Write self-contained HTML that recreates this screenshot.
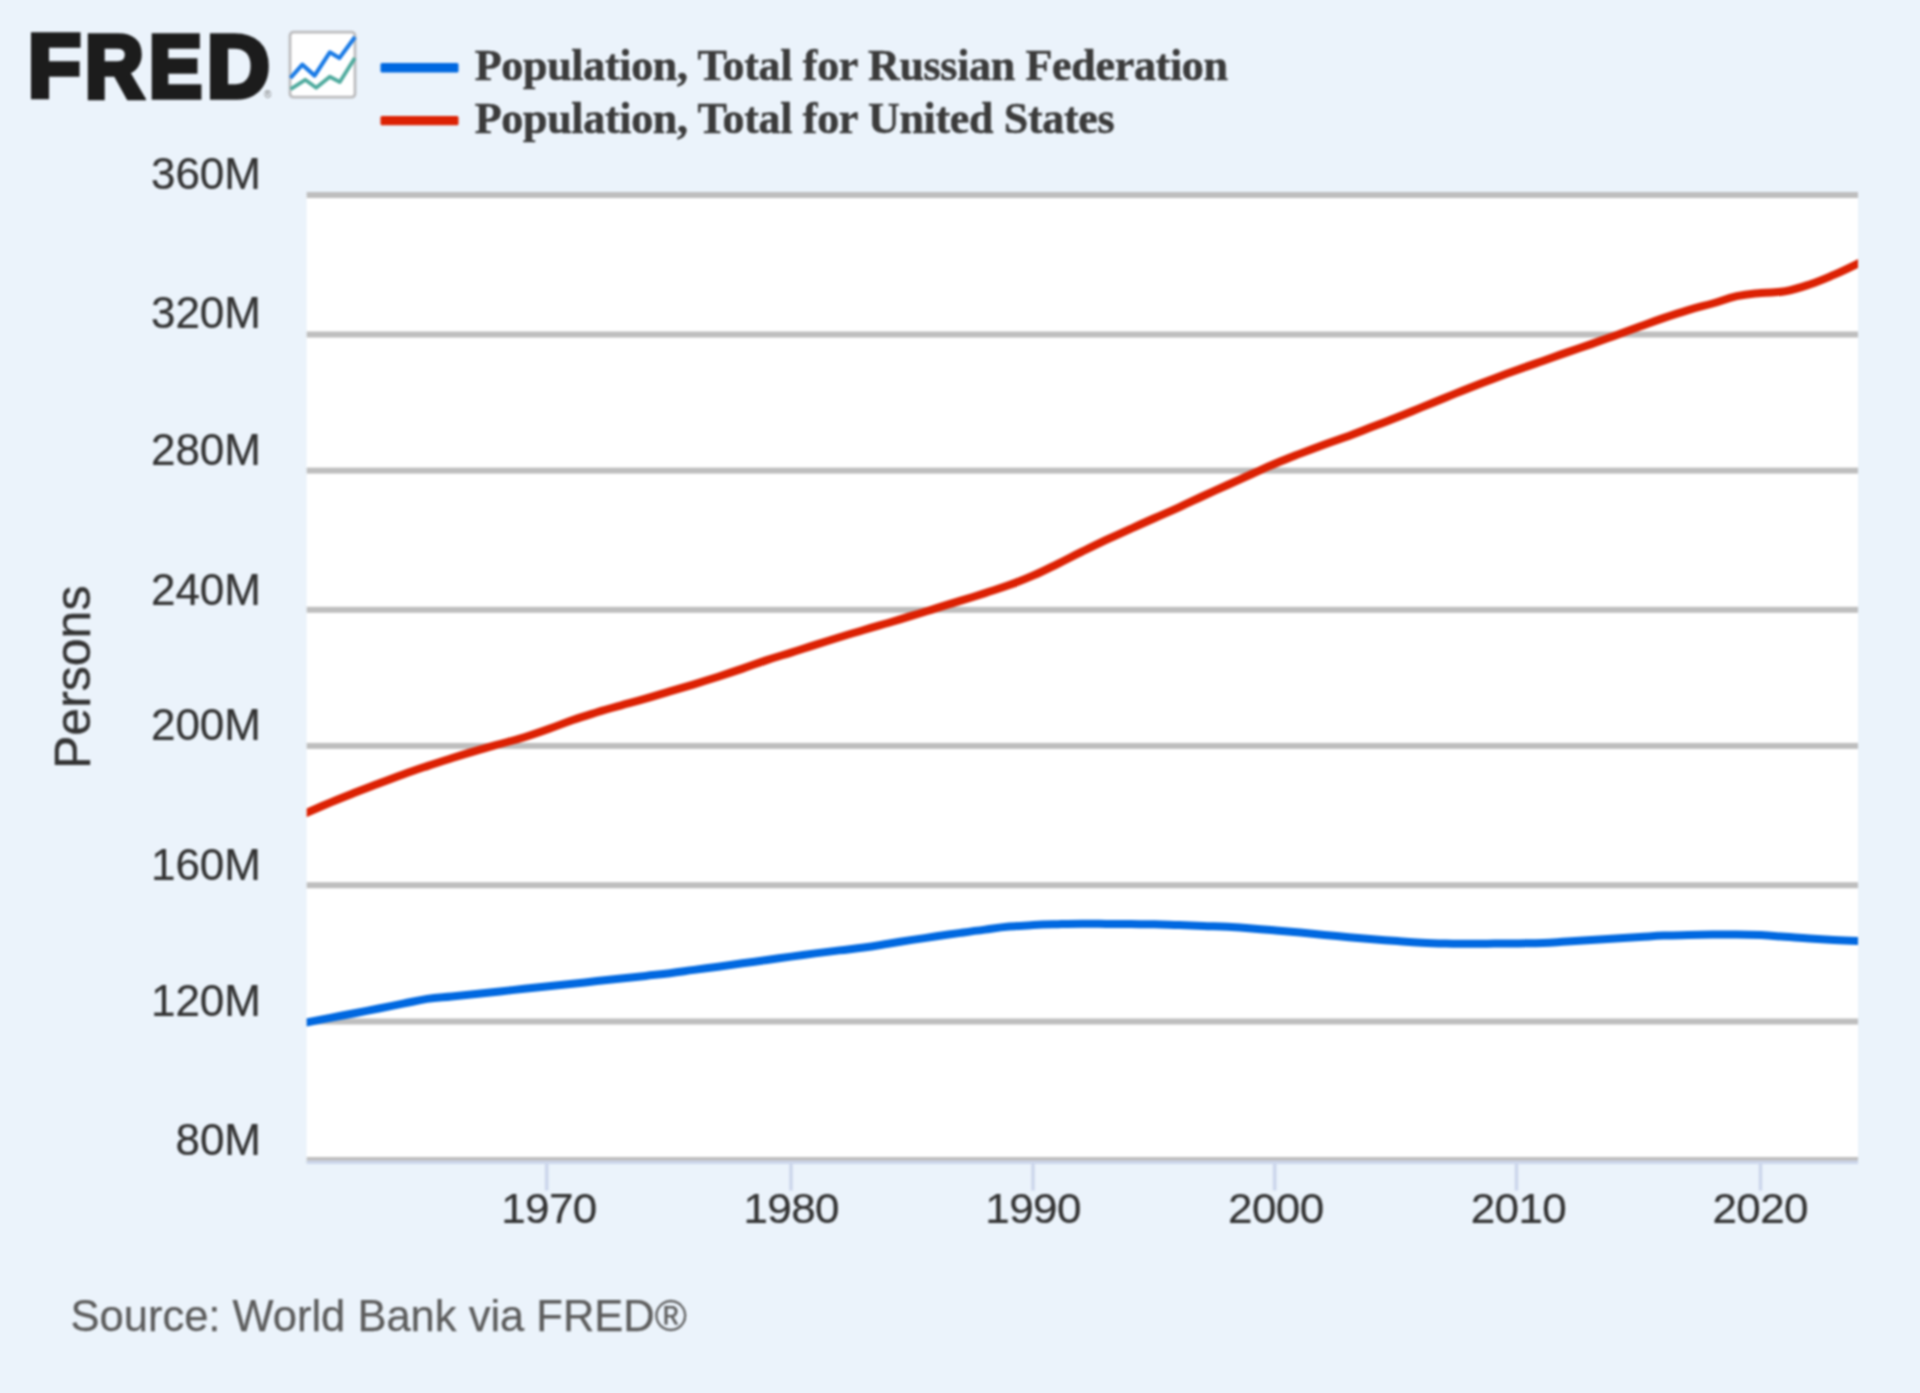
<!DOCTYPE html>
<html lang="en">
<head>
<meta charset="utf-8">
<title>FRED Graph - Population, Total</title>
<style>
html,body{margin:0;padding:0;}
body{width:1920px;height:1393px;background:#ebf3fb;overflow:hidden;position:relative;
 font-family:"Liberation Sans",Arial,sans-serif;}
#wrap{position:absolute;left:0;top:0;width:1920px;height:1393px;overflow:hidden;filter:blur(0.9px);}
.logo span{position:absolute;top:0;font-family:"Liberation Sans",Arial,sans-serif;font-weight:bold;
 font-size:85px;line-height:85px;color:#1c1c1c;-webkit-text-stroke:5.5px #1c1c1c;white-space:nowrap;transform-origin:0 0;transform:scale(1,1.04);}
.reg{position:absolute;left:264px;top:89.5px;font-size:10px;line-height:10px;color:#777;}
.legend{position:absolute;left:474.8px;font-family:"Liberation Serif","Times New Roman",serif;font-weight:bold;
 font-size:44px;line-height:44px;letter-spacing:-0.32px;color:#3b3b3b;-webkit-text-stroke:0.5px #3b3b3b;white-space:nowrap;}
.yl{position:absolute;left:101px;width:160px;text-align:right;font-size:44px;line-height:44px;color:#333;-webkit-text-stroke:0.25px #333;transform:scaleY(0.99);white-space:nowrap;}
.xl{position:absolute;width:200px;text-align:center;font-size:44px;line-height:44px;color:#333;-webkit-text-stroke:0.25px #333;letter-spacing:-0.6px;white-space:nowrap;top:1185.5px;transform:scaleY(0.975);}
.ytitle{position:absolute;left:0;top:0;font-size:50px;line-height:50px;color:#333;-webkit-text-stroke:0.4px #333;white-space:nowrap;
 transform-origin:0 0;}
.src{position:absolute;left:70.5px;top:1292px;font-size:43.5px;line-height:48px;color:#5c5c5c;-webkit-text-stroke:0.25px #5c5c5c;white-space:nowrap;}
svg{position:absolute;left:0;top:0;}
</style>
</head>
<body>
<div id="wrap">

<svg width="1920" height="1393" viewBox="0 0 1920 1393">
<rect x="306.7" y="195" width="1551.3" height="965" fill="#ffffff"/>
<rect x="306.7" y="192.0" width="1551.3" height="6" fill="#bebebe"/>
<rect x="306.7" y="331.5" width="1551.3" height="6" fill="#bebebe"/>
<rect x="306.7" y="467.6" width="1551.3" height="6" fill="#bebebe"/>
<rect x="306.7" y="606.8" width="1551.3" height="6" fill="#bebebe"/>
<rect x="306.7" y="742.9" width="1551.3" height="6" fill="#bebebe"/>
<rect x="306.7" y="882.2" width="1551.3" height="6" fill="#bebebe"/>
<rect x="306.7" y="1018.5" width="1551.3" height="6" fill="#bebebe"/>
<rect x="306.7" y="1157.0" width="1551.3" height="6" fill="#bebebe"/>
<rect x="306.7" y="1160.6" width="1551.3" height="3.4" fill="#ccd6eb"/>
<rect x="544.9" y="1162" width="3.6" height="28.5" fill="#ccd6eb"/>
<rect x="789.2" y="1162" width="3.6" height="28.5" fill="#ccd6eb"/>
<rect x="1031.2" y="1162" width="3.6" height="28.5" fill="#ccd6eb"/>
<rect x="1272.9" y="1162" width="3.6" height="28.5" fill="#ccd6eb"/>
<rect x="1514.7" y="1162" width="3.6" height="28.5" fill="#ccd6eb"/>
<rect x="1758.7" y="1162" width="3.6" height="28.5" fill="#ccd6eb"/>
<clipPath id="plotclip"><rect x="306.7" y="180" width="1551.3" height="990"/></clipPath>
<g fill="none" stroke-width="8" stroke-linejoin="round" stroke-linecap="round" clip-path="url(#plotclip)">
<path d="M306.0 1022.5 C306.0 1022.5 320.6 1019.7 330.2 1017.9 C339.9 1016.0 344.8 1015.1 354.5 1013.2 C364.2 1011.3 369.1 1010.4 378.8 1008.5 C388.4 1006.6 393.3 1005.6 403.0 1003.7 C412.7 1001.8 417.6 1000.4 427.2 998.9 C436.9 997.4 441.8 997.4 451.5 996.4 C461.2 995.4 466.1 994.9 475.8 993.9 C485.4 992.9 490.3 992.4 500.0 991.4 C509.7 990.4 514.5 989.9 524.2 988.8 C534.0 987.8 538.8 987.3 548.5 986.3 C558.2 985.3 563.0 984.7 572.8 983.7 C582.5 982.7 587.3 982.1 597.0 981.1 C606.7 980.1 611.5 979.5 621.2 978.5 C631.0 977.4 635.8 976.9 645.5 975.9 C655.2 974.8 660.0 974.4 669.8 973.2 C679.5 972.0 684.3 971.2 694.0 969.9 C703.7 968.6 708.5 968.0 718.2 966.7 C728.0 965.3 732.8 964.7 742.5 963.3 C752.2 962.0 757.0 961.4 766.8 960.0 C776.5 958.7 781.3 957.9 791.0 956.6 C800.7 955.3 805.5 954.7 815.2 953.4 C825.0 952.2 829.8 951.6 839.5 950.4 C849.2 949.2 854.0 948.8 863.8 947.5 C873.5 946.1 878.3 945.3 888.0 943.8 C897.7 942.2 902.5 941.4 912.2 939.9 C922.0 938.4 926.8 937.8 936.5 936.3 C946.2 934.9 951.0 934.2 960.8 932.9 C970.5 931.5 975.3 930.8 985.0 929.6 C994.7 928.3 999.5 927.5 1009.2 926.6 C1019.0 925.7 1023.8 925.6 1033.5 925.1 C1043.2 924.6 1048.0 924.5 1057.8 924.2 C1067.5 923.9 1072.3 923.7 1082.0 923.7 C1091.7 923.7 1096.5 923.8 1106.2 923.9 C1116.0 923.9 1120.8 924.0 1130.5 924.1 C1140.2 924.2 1145.0 924.1 1154.8 924.3 C1164.5 924.5 1169.3 924.8 1179.0 925.1 C1188.7 925.4 1193.5 925.6 1203.2 925.9 C1213.0 926.3 1217.8 926.3 1227.5 926.8 C1237.2 927.3 1242.0 927.6 1251.8 928.4 C1261.5 929.1 1266.3 929.6 1276.0 930.5 C1285.7 931.3 1290.5 931.7 1300.2 932.6 C1310.0 933.5 1314.8 934.0 1324.5 934.9 C1334.2 935.8 1339.0 936.3 1348.8 937.2 C1358.5 938.0 1363.3 938.4 1373.0 939.2 C1382.7 940.0 1387.5 940.4 1397.2 941.1 C1407.0 941.8 1411.8 942.2 1421.5 942.7 C1431.2 943.2 1436.0 943.3 1445.8 943.5 C1455.5 943.7 1460.3 943.8 1470.0 943.8 C1479.7 943.8 1484.5 943.7 1494.2 943.6 C1504.0 943.5 1508.8 943.5 1518.5 943.4 C1528.2 943.2 1533.0 943.2 1542.8 942.9 C1552.5 942.5 1557.3 942.1 1567.0 941.6 C1576.7 941.0 1581.5 940.7 1591.2 940.1 C1601.0 939.5 1605.8 939.2 1615.5 938.6 C1625.2 938.0 1630.0 937.7 1639.8 937.1 C1649.5 936.5 1654.3 936.0 1664.0 935.6 C1673.7 935.2 1678.5 935.2 1688.2 935.0 C1698.0 934.8 1702.8 934.7 1712.5 934.6 C1722.2 934.5 1727.0 934.4 1736.8 934.4 C1746.5 934.4 1751.3 934.6 1761.0 935.1 C1770.7 935.6 1775.5 936.1 1785.2 936.8 C1795.0 937.5 1799.8 938.0 1809.5 938.6 C1819.2 939.2 1824.0 939.5 1833.8 940.0 C1843.5 940.5 1858.0 941.0 1858.0 941.0" stroke="#0068e0"/>
<path d="M306.0 813.0 C306.0 813.0 320.6 806.7 330.2 802.6 C339.9 798.6 344.8 796.7 354.5 792.8 C364.2 789.0 369.1 787.2 378.8 783.5 C388.4 779.8 393.3 777.9 403.0 774.4 C412.7 770.9 417.6 769.3 427.2 766.1 C436.9 762.8 441.8 761.3 451.5 758.3 C461.2 755.2 466.1 753.7 475.8 750.9 C485.4 748.0 490.3 746.7 500.0 744.0 C509.7 741.3 514.5 740.2 524.2 737.2 C534.0 734.2 538.8 732.5 548.5 729.0 C558.2 725.6 563.0 723.4 572.8 720.0 C582.5 716.7 587.3 715.3 597.0 712.3 C606.7 709.4 611.5 708.1 621.2 705.4 C631.0 702.7 635.8 701.5 645.5 698.7 C655.2 695.9 660.0 694.3 669.8 691.4 C679.5 688.5 684.3 687.2 694.0 684.3 C703.7 681.3 708.5 679.8 718.2 676.7 C728.0 673.5 732.8 671.9 742.5 668.6 C752.2 665.3 757.0 663.3 766.8 660.1 C776.5 656.9 781.3 655.6 791.0 652.6 C800.7 649.6 805.5 647.9 815.2 644.9 C825.0 641.8 829.8 640.3 839.5 637.3 C849.2 634.3 854.0 632.8 863.8 630.0 C873.5 627.1 878.3 625.8 888.0 623.0 C897.7 620.1 902.5 618.7 912.2 615.7 C922.0 612.8 926.8 611.1 936.5 608.1 C946.2 605.1 951.0 603.7 960.8 600.7 C970.5 597.7 975.3 596.2 985.0 593.1 C994.7 589.9 999.5 588.6 1009.2 585.1 C1019.0 581.5 1023.8 579.7 1033.5 575.4 C1043.2 571.2 1048.0 568.6 1057.8 563.8 C1067.5 559.1 1072.3 556.4 1082.0 551.7 C1091.7 546.9 1096.5 544.5 1106.2 539.9 C1116.0 535.4 1120.8 533.3 1130.5 528.9 C1140.2 524.5 1145.0 522.3 1154.8 518.0 C1164.5 513.7 1169.3 511.7 1179.0 507.3 C1188.7 502.9 1193.5 500.5 1203.2 496.0 C1213.0 491.6 1217.8 489.4 1227.5 485.0 C1237.2 480.6 1242.0 478.4 1251.8 474.0 C1261.5 469.7 1266.3 467.3 1276.0 463.3 C1285.7 459.2 1290.5 457.4 1300.2 453.6 C1310.0 449.8 1314.8 448.0 1324.5 444.4 C1334.2 440.9 1339.0 439.4 1348.8 435.9 C1358.5 432.3 1363.3 430.3 1373.0 426.6 C1382.7 422.9 1387.5 421.1 1397.2 417.2 C1407.0 413.4 1411.8 411.3 1421.5 407.4 C1431.2 403.4 1436.0 401.5 1445.8 397.5 C1455.5 393.6 1460.3 391.5 1470.0 387.7 C1479.7 383.9 1484.5 382.1 1494.2 378.4 C1504.0 374.8 1508.8 373.0 1518.5 369.5 C1528.2 366.0 1533.0 364.4 1542.8 361.0 C1552.5 357.6 1557.3 355.7 1567.0 352.4 C1576.7 349.0 1581.5 347.5 1591.2 344.1 C1601.0 340.8 1605.8 338.9 1615.5 335.4 C1625.2 331.9 1630.0 330.1 1639.8 326.6 C1649.5 323.1 1654.3 321.2 1664.0 317.9 C1673.7 314.6 1678.5 313.0 1688.2 310.1 C1698.0 307.2 1702.8 306.2 1712.5 303.5 C1722.2 300.7 1727.0 298.3 1736.8 296.2 C1746.5 294.1 1751.3 294.0 1761.0 293.0 C1770.7 292.0 1775.5 292.8 1785.2 291.2 C1795.0 289.5 1799.8 287.8 1809.5 284.5 C1819.2 281.3 1824.0 279.1 1833.8 274.9 C1843.5 270.7 1858.0 263.5 1858.0 263.5" stroke="#dc2103"/>
</g>
<rect x="380.5" y="63.1" width="78" height="9.4" rx="1.5" fill="#0068e0"/>
<rect x="380.5" y="115.9" width="78" height="9.4" rx="1.5" fill="#dc2103"/>
<rect x="290" y="32.2" width="65" height="65" rx="3.5" fill="#ffffff" stroke="#bcbcbe" stroke-width="2.8"/>
<path d="M290.5 78 L302.3 64.6 L314.6 75.6 L329.8 52.3 L339.4 58.1 L355 37" fill="none" stroke="#1a7be6" stroke-width="4.1" stroke-linejoin="round"/>
<path d="M290.7 89.1 L305.2 79.8 L316.2 87.8 L329.8 76.8 L339.8 82 L354.8 58" fill="none" stroke="#4fab9e" stroke-width="3.8" stroke-linejoin="round"/>
</svg>
<div class="logo"><span id="lF" style="left:28px;top:22px;transform:scale(1.02,1.04)">F</span><span id="lR" style="left:84.5px;top:22px;transform:scale(0.955,1.04)">R</span><span id="lE" style="left:149px;top:22px;transform:scale(0.935,1.04)">E</span><span id="lD" style="left:207px;top:22px;transform:scale(1.02,1.04)">D</span></div>
<div class="reg">&#174;</div>
<div class="legend" id="lg1" style="top:44px">Population, Total for Russian Federation</div>
<div class="legend" id="lg2" style="top:97px">Population, Total for United States</div>
<div class="yl" style="top:152.1px">360M</div>
<div class="yl" style="top:291.0px">320M</div>
<div class="yl" style="top:428.0px">280M</div>
<div class="yl" style="top:567.5px">240M</div>
<div class="yl" style="top:703.3px">200M</div>
<div class="yl" style="top:842.6px">160M</div>
<div class="yl" style="top:978.9px">120M</div>
<div class="yl" style="top:1118.2px">80M</div>
<div class="xl" style="left:449.0px">1970</div>
<div class="xl" style="left:691.2px">1980</div>
<div class="xl" style="left:933.1px">1990</div>
<div class="xl" style="left:1175.8px">2000</div>
<div class="xl" style="left:1418.5px">2010</div>
<div class="xl" style="left:1660.2px">2020</div>
<div class="ytitle" id="yt" style="transform:translate(48px,769px) rotate(-90deg)">Persons</div>
<div class="src" id="src">Source: World Bank via FRED&#174;</div>
</div>
</body>
</html>
